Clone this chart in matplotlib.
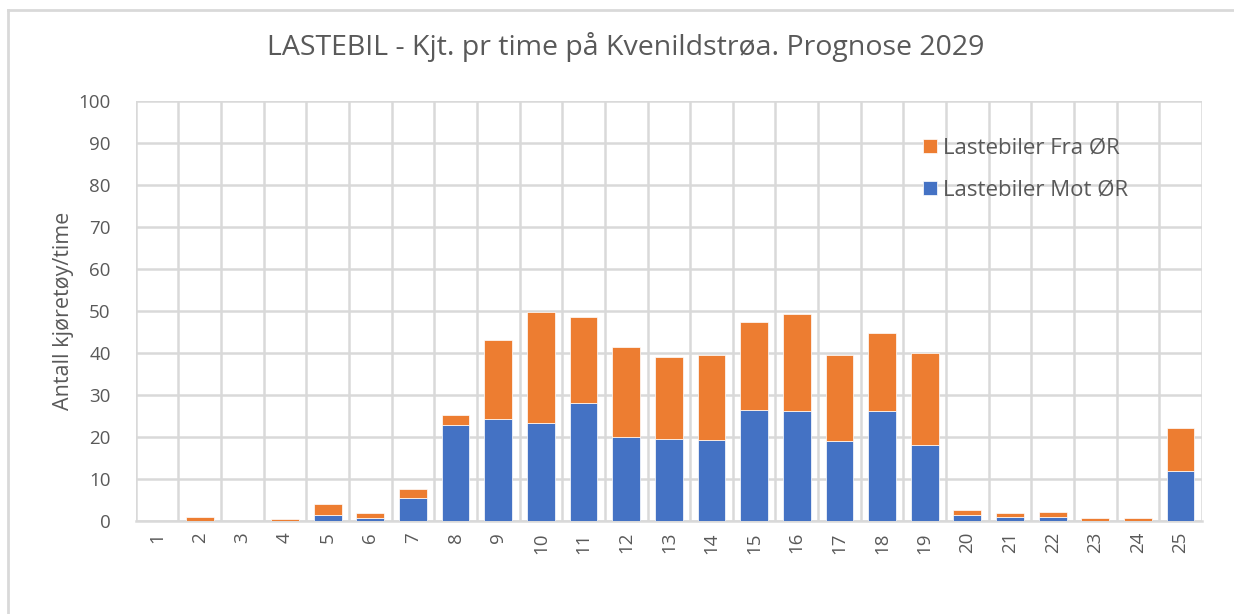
import numpy as np
import matplotlib.pyplot as plt
from matplotlib.lines import Line2D

# Timer (kategorier) og verdier lest av grafen
timer = [str(i) for i in range(1, 26)]
mot_or = [0, 0, 0, 0, 1.5, 0.8, 5.5, 22.9, 24.2, 23.3, 28.0, 19.9, 19.5, 19.2,
          26.4, 26.1, 19.0, 26.1, 18.2, 1.5, 1.0, 1.0, 0, 0, 12.0]
totalt = [0, 1.0, 0, 0.5, 4.0, 2.0, 7.5, 25.3, 43.2, 49.7, 48.6, 41.5, 39.1, 39.6,
          47.3, 49.4, 39.6, 44.8, 39.9, 2.5, 2.0, 2.2, 0.8, 0.8, 22.2]
fra_or = [t - m for t, m in zip(totalt, mot_or)]

blaa = '#4472C4'
oransje = '#ED7D31'
graa = '#595959'
rutenett = '#D9D9D9'

plt.rcParams['font.family'] = ['Open Sans', 'DejaVu Sans']

fig = plt.figure(figsize=(12.34, 6.14), dpi=100)
ax = fig.add_axes([0.110, 0.1515, 0.864, 0.684])

x = np.arange(len(timer))
ax.bar(x, mot_or, width=0.65, color=blaa, edgecolor='white', linewidth=0.5,
       label='Lastebiler Mot ØR', zorder=3)
ax.bar(x, fra_or, width=0.65, bottom=mot_or, color=oransje, edgecolor='white',
       linewidth=0.5, label='Lastebiler Fra ØR', zorder=3)

ax.set_xlim(-0.5, len(timer) - 0.5)
ax.set_ylim(0, 100)
ax.set_yticks(range(0, 101, 10))
ax.set_xticks(x)
ax.set_xticklabels(timer, rotation=90)
ax.set_xticks(np.arange(-0.5, len(timer), 1), minor=True)
ax.tick_params(axis='both', which='both', length=0, colors=graa, labelsize=13.5)
ax.tick_params(axis='x', pad=8)
ax.tick_params(axis='y', pad=18)
ax.grid(axis='y', which='major', color=rutenett, linewidth=1.8, zorder=0)
ax.grid(axis='x', which='minor', color=rutenett, linewidth=1.8, zorder=0)
for s in ['top', 'right', 'left']:
    ax.spines[s].set_visible(False)
ax.spines['bottom'].set_color(rutenett)
ax.spines['bottom'].set_linewidth(1.8)

ax.set_ylabel('Antall kjøretøy/time', color=graa, fontsize=15.5, va='center')
ax.yaxis.set_label_coords(-0.0675, 0.5)
fig.text(0.507, 0.923, 'LASTEBIL - Kjt. pr time på Kvenildstrøa. Prognose 2029',
         ha='center', va='center', color=graa, fontsize=20.5)

h, l = ax.get_legend_handles_labels()
leg = ax.legend(h[::-1], l[::-1], loc='upper left', bbox_to_anchor=(0.72, 0.96),
                frameon=False, fontsize=16, labelcolor=graa, handlelength=0.6,
                handleheight=0.6, handletextpad=0.3, labelspacing=0.95)

# ramme rundt diagrammet (topp og venstre)
fig.add_artist(Line2D([8 / 1234, 1], [1 - 10 / 614, 1 - 10 / 614],
                      transform=fig.transFigure, color=rutenett, linewidth=2))
fig.add_artist(Line2D([8 / 1234, 8 / 1234], [0, 1 - 10 / 614],
                      transform=fig.transFigure, color=rutenett, linewidth=2))

plt.savefig('out.png', dpi=100)
